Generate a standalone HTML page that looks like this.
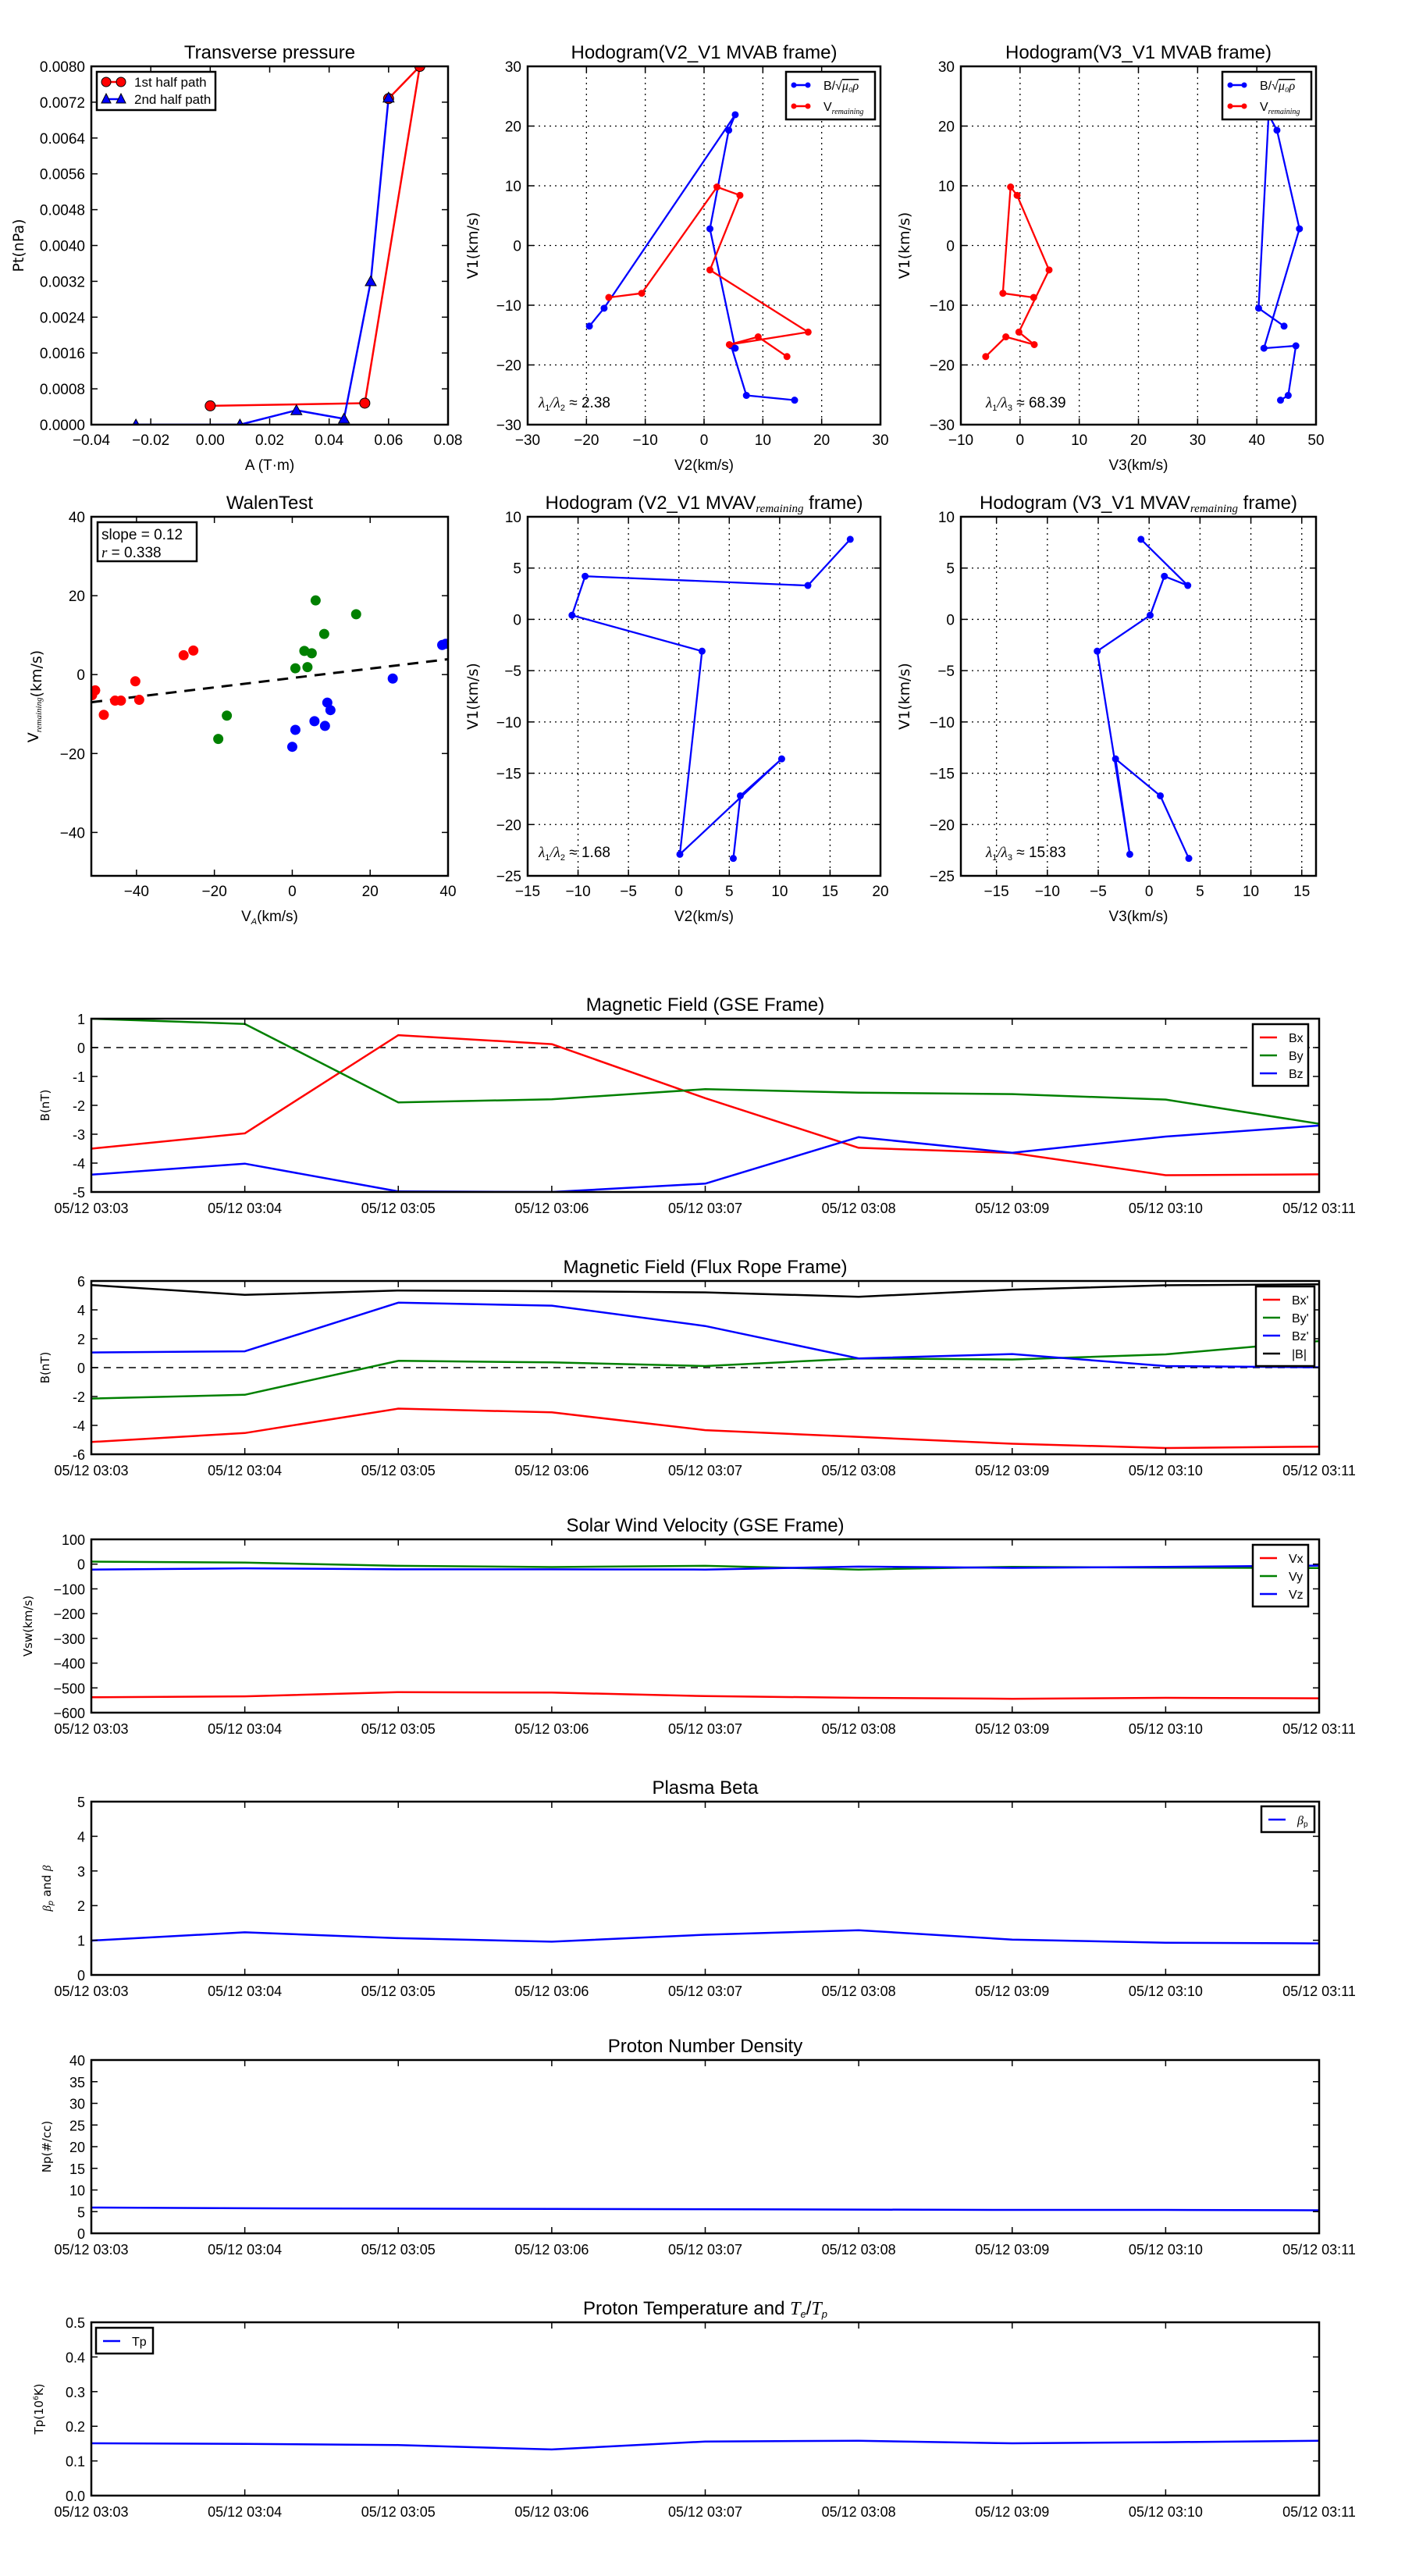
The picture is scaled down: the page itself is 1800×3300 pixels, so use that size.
<!DOCTYPE html>
<html><head><meta charset="utf-8"><style>
html,body{margin:0;padding:0;background:#fff;}
svg{display:block;font-family:"Liberation Sans",sans-serif;}
</style></head><body>
<svg id="fig" xmlns="http://www.w3.org/2000/svg" width="1800" height="3300" viewBox="0 0 1800 3300"></svg>
<script>
// ---------- data ----------
const tpX1=[0.0,0.052,0.0705,0.060];
const tpY1=[0.00042,0.00048,0.0080,0.00728];
const tpX2=[-0.025,0.010,0.029,0.045,0.054,0.060];
const tpY2=[0,0,0.00032,0.00013,0.0032,0.0073];

const h1BV2=[-19.5,-17,5.3,4.2,1.0,5.3,4.6,7.2,15.4];
const h1BV1=[-13.5,-10.5,21.9,19.3,2.8,-17.2,-16.8,-25.1,-25.9];
const h1VV2=[-16.2,-10.6,2.2,6.1,1.0,17.7,4.3,9.2,14.1];
const h1VV1=[-8.7,-8.0,9.8,8.4,-4.1,-14.5,-16.6,-15.3,-18.6];
const h1BV3=[44.6,40.3,42.0,43.4,47.2,41.2,46.6,45.3,44.0];
const h1VV3=[2.3,-2.9,-1.6,-0.5,4.9,-0.2,2.4,-2.4,-5.8];

const walRedX=[-51.4,-50.6,-48.4,-45.5,-44,-40.3,-39.3,-27.9,-25.4];
const walRedY=[-5.2,-4.0,-10.2,-6.6,-6.6,-1.7,-6.4,4.9,6.1];
const walGreenX=[6.0,16.4,8.2,3.1,5.0,0.8,3.9,-16.8,-19];
const walGreenY=[18.8,15.3,10.3,6.0,5.4,1.6,1.9,-10.4,-16.3];
const walBlueX=[38.5,39.4,25.8,9.0,9.8,5.7,8.4,0.8,0];
const walBlueY=[7.5,7.8,-1.0,-7.1,-9.0,-11.8,-13.0,-14.0,-18.3];
const walSlope=0.119, walIntercept=-0.86;

const h2V2=[17.0,12.8,-9.3,-10.6,2.3,0.1,10.2,6.1,5.4];
const h2V1=[7.8,3.3,4.2,0.4,-3.1,-22.9,-13.6,-17.2,-23.3];
const h2V3=[-0.8,3.8,1.5,0.1,-5.1,-1.9,-3.3,1.1,3.9];

const timeLabels=["05/12 03:03","05/12 03:04","05/12 03:05","05/12 03:06","05/12 03:07","05/12 03:08","05/12 03:09","05/12 03:10","05/12 03:11"];
const gseBx=[-3.5,-2.97,0.43,0.12,-1.75,-3.47,-3.65,-4.42,-4.39];
const gseBy=[1.0,0.82,-1.9,-1.79,-1.44,-1.56,-1.61,-1.8,-2.64];
const gseBz=[-4.4,-4.02,-4.98,-5.0,-4.71,-3.1,-3.64,-3.08,-2.7];
const frBx=[-5.15,-4.53,-2.84,-3.1,-4.33,-4.8,-5.27,-5.57,-5.47];
const frBy=[-2.14,-1.88,0.47,0.36,0.11,0.64,0.56,0.92,1.84];
const frBz=[1.05,1.13,4.5,4.29,2.88,0.64,0.94,0.11,0.02];
const frBt=[5.72,5.04,5.34,5.29,5.21,4.91,5.4,5.7,5.77];
const vx=[-538,-534,-517,-519,-533,-540,-544,-540,-542];
const vy=[10,6,-7,-12,-7,-22,-11,-14,-16];
const vz=[-22,-17,-21,-21,-22,-10,-15,-11,-6];
const betaP=[0.99,1.23,1.06,0.96,1.16,1.29,1.02,0.93,0.91];
const np=[5.95,5.79,5.7,5.63,5.56,5.48,5.4,5.4,5.32];
const tp=[0.151,0.149,0.146,0.133,0.156,0.158,0.151,0.154,0.158];

// ---------- helpers ----------
const NS="http://www.w3.org/2000/svg";
const svg=document.getElementById('fig');
function mk(parent,tag,attrs,name){
  const el=document.createElementNS(NS,tag);
  for(const k in attrs) el.setAttribute(k,attrs[k]);
  
  
  parent.appendChild(el);
  return el;
}
function txt(parent,x,y,s,size,anchor,name,extra){
  const a={x:x,y:y,'font-size':size,'text-anchor':anchor||'middle',fill:'#000'};
  if(extra) for(const k in extra) a[k]=extra[k];
  const t=mk(parent,'text',a,name);
  if(s!==null) t.textContent=s;
  return t;
}
function tspan(t,s,extra){
  const e=document.createElementNS(NS,'tspan');
  for(const k in (extra||{})) e.setAttribute(k,extra[k]);
  e.textContent=s;
  t.appendChild(e);
  return e;
}
let clipId=0;
function axes(c){
  const g=mk(svg,'g',{},c.name);
  const sx=v=>c.L+(v-c.xd[0])/(c.xd[1]-c.xd[0])*(c.R-c.L);
  const sy=v=>c.B-(v-c.yd[0])/(c.yd[1]-c.yd[0])*(c.B-c.T);
  const id='clip'+(clipId++);
  const cp=mk(g,'clipPath',{id:id},c.name+'-clip');
  mk(cp,'rect',{x:c.L,y:c.T,width:c.R-c.L,height:c.B-c.T},c.name+'-clip-rect');
  if(c.grid){
    c.xt.forEach(v=>{const x=sx(v); if(x>c.L+1&&x<c.R-1) mk(g,'line',{x1:x,x2:x,y1:c.T,y2:c.B,stroke:'#000','stroke-width':1.3,'stroke-dasharray':'2,5'},'x-grid-line');});
    c.yt.forEach(v=>{const y=sy(v); if(y>c.T+1&&y<c.B-1) mk(g,'line',{x1:c.L,x2:c.R,y1:y,y2:y,stroke:'#000','stroke-width':1.3,'stroke-dasharray':'2,5'},'y-grid-line');});
  }
  const data=mk(g,'g',{'clip-path':'url(#'+id+')'},c.name+'-plot-area');
  const fs=c.tickFs||19;
  c.xt.forEach((v,i)=>{const x=sx(v);
    mk(g,'line',{x1:x,x2:x,y1:c.B,y2:c.B-8,stroke:'#000','stroke-width':1.5},'x-tick');
    mk(g,'line',{x1:x,x2:x,y1:c.T,y2:c.T+8,stroke:'#000','stroke-width':1.5},'x-tick-top');
    txt(g,x,c.B+(c.xlabOff||26),c.xtl[i],fs,'middle','x-tick-label');});
  c.yt.forEach((v,i)=>{const y=sy(v);
    mk(g,'line',{x1:c.L,x2:c.L+8,y1:y,y2:y,stroke:'#000','stroke-width':1.5},'y-tick');
    mk(g,'line',{x1:c.R,x2:c.R-8,y1:y,y2:y,stroke:'#000','stroke-width':1.5},'y-tick-right');
    txt(g,c.L-8,y+7,c.ytl[i],fs,'end','y-tick-label');});
  if(c.title){const t=txt(g,(c.L+c.R)/2,c.T-10,null,c.titleFs||24,'middle','chart-title'); c.title(t);}
  if(c.xlabel){const t=txt(g,(c.L+c.R)/2,c.B+(c.xlOff||58),null,19,'middle','x-axis-title'); c.xlabel(t);}
  if(c.ylabel){const x=c.L-c.ylOff, y=(c.T+c.B)/2;
    const t=txt(g,x,y,null,c.ylFs||19,'middle','y-axis-title',{transform:'rotate(-90 '+x+' '+y+')','font-family':'DejaVu Sans, sans-serif'}); c.ylabel(t);}
  const frame=()=>mk(g,'rect',{x:c.L,y:c.T,width:c.R-c.L,height:c.B-c.T,fill:'none',stroke:'#000','stroke-width':2.5},'axes-frame');
  return {g,data,sx,sy,frame};
}
function pline(ax,xs,ys,color,w,name,dash){
  const pts=xs.map((x,i)=>ax.sx(x).toFixed(1)+','+ax.sy(ys[i]).toFixed(1)).join(' ');
  const a={points:pts,fill:'none',stroke:color,'stroke-width':w||2.5,'stroke-linejoin':'round'};
  if(dash) a['stroke-dasharray']=dash;
  return mk(ax.data,'polyline',a,name);
}
function dots(ax,xs,ys,color,r,name,stroke){
  xs.forEach((x,i)=>mk(ax.data,'circle',{cx:ax.sx(x),cy:ax.sy(ys[i]),r:r,fill:color,stroke:stroke||color,'stroke-width':1},name));
}
function tris(ax,xs,ys,color,s,name){
  xs.forEach((x,i)=>{const cx=ax.sx(x),cy=ax.sy(ys[i]);
    mk(ax.data,'polygon',{points:`${cx},${cy-s} ${cx-s},${cy+s*0.8} ${cx+s},${cy+s*0.8}`,fill:color,stroke:'#000','stroke-width':1},name);});
}
function range(a,b,st){const r=[];for(let v=a;v<=b+1e-9;v+=st)r.push(+v.toFixed(6));return r;}
function lbl(arr,f){return arr.map(v=>f?f(v):(v<0?'\u2212'+Math.abs(v):String(v)));}
function box(g,x,y,w,h,name){return mk(g,'rect',{x:x,y:y,width:w,height:h,fill:'#fff',stroke:'#000','stroke-width':2.5},name);}
function vrem(t,size){t.appendChild(document.createTextNode('V'));tspan(t,'remaining',{'font-size':size,'font-style':'italic','font-family':'Liberation Serif, serif',dy:4});}

// ---------- Transverse pressure ----------
(function(){
  const xt=range(-0.04,0.08,0.02), yt=range(0,0.008,0.0008);
  const ax=axes({name:'transverse-pressure-chart',L:117,R:574,T:85,B:544,xd:[-0.04,0.08],yd:[0,0.008],xt:xt,xtl:lbl(xt,v=>(v<0?'\u2212':'')+Math.abs(v).toFixed(2)),yt:yt,ytl:yt.map(v=>v.toFixed(4)),
    title:t=>t.textContent='Transverse pressure',xlabel:t=>t.textContent='A (T\u00b7m)',ylabel:t=>t.textContent='Pt(nPa)',ylOff:87});
  pline(ax,tpX1,tpY1,'#ff0000',2.5,'first-half-path-line');
  pline(ax,tpX2,tpY2,'#0000ff',2.5,'second-half-path-line');
  dots(ax,tpX1,tpY1,'#ff0000',6.5,'first-half-marker','#000');
  tris(ax,tpX2,tpY2,'#0000ff',7,'second-half-marker');
  ax.frame();
  box(ax.g,124,92,152,49,'legend');
  mk(ax.g,'line',{x1:134,x2:156,y1:105,y2:105,stroke:'#ff0000','stroke-width':2.5},'legend-line-first-half');
  mk(ax.g,'circle',{cx:136,cy:105,r:6,fill:'#ff0000',stroke:'#000'},'legend-marker');
  mk(ax.g,'circle',{cx:155,cy:105,r:6,fill:'#ff0000',stroke:'#000'},'legend-marker');
  txt(ax.g,172,111,'1st half path',17,'start','legend-entry-first-half');
  mk(ax.g,'line',{x1:134,x2:156,y1:127,y2:127,stroke:'#0000ff','stroke-width':2.5},'legend-line-second-half');
  mk(ax.g,'polygon',{points:'136,120 130,132 142,132',fill:'#0000ff',stroke:'#000'},'legend-marker');
  mk(ax.g,'polygon',{points:'155,120 149,132 161,132',fill:'#0000ff',stroke:'#000'},'legend-marker');
  txt(ax.g,172,133,'2nd half path',17,'start','legend-entry-second-half');
})();

// ---------- hodogram legend ----------
function hodoLegend(g,x,y){
  box(g,x,y,114,61,'legend');
  mk(g,'line',{x1:x+8,x2:x+30,y1:y+17,y2:y+17,stroke:'#0000ff','stroke-width':2.5},'legend-line-b');
  mk(g,'circle',{cx:x+10,cy:y+17,r:3.5,fill:'#0000ff'},'legend-marker');
  mk(g,'circle',{cx:x+28,cy:y+17,r:3.5,fill:'#0000ff'},'legend-marker');
  const t=txt(g,x+48,y+23,'B/\u221A',16,'start','legend-entry-b');
  tspan(t,'\u03bc\u2080\u03c1',{'font-style':'italic','font-family':'Liberation Serif, serif','text-decoration':'overline'});
  mk(g,'line',{x1:x+8,x2:x+30,y1:y+44,y2:y+44,stroke:'#ff0000','stroke-width':2.5},'legend-line-v');
  mk(g,'circle',{cx:x+10,cy:y+44,r:3.5,fill:'#ff0000'},'legend-marker');
  mk(g,'circle',{cx:x+28,cy:y+44,r:3.5,fill:'#ff0000'},'legend-marker');
  const t2=txt(g,x+48,y+50,null,16,'start','legend-entry-v'); vrem(t2,10);
}
function lam(g,x,y,a,b,v){
  const t=txt(g,x,y,null,19,'start','eigenvalue-ratio-label');
  tspan(t,'\u03bb',{'font-style':'italic','font-family':'Liberation Serif, serif'});
  tspan(t,'1',{'font-size':11,dy:4});
  tspan(t,'/\u03bb',{'font-style':'italic','font-family':'Liberation Serif, serif',dy:-4});
  tspan(t,b,{'font-size':11,dy:4});
  tspan(t,' \u2248 '+v,{dy:-4});
}

// ---------- Hodogram V2_V1 MVAB ----------
(function(){
  const xt=range(-30,30,10), yt=range(-30,30,10);
  const ax=axes({name:'hodogram-v2-v1-mvab-chart',L:676,R:1128,T:85,B:544,xd:[-30,30],yd:[-30,30],xt:xt,xtl:lbl(xt),yt:yt,ytl:lbl(yt),grid:true,
    title:t=>t.textContent='Hodogram(V2_V1 MVAB frame)',xlabel:t=>t.textContent='V2(km/s)',ylabel:t=>t.textContent='V1(km/s)',ylOff:64});
  pline(ax,h1BV2,h1BV1,'#0000ff',2.3,'b-hodogram-line'); dots(ax,h1BV2,h1BV1,'#0000ff',4,'b-hodogram-point');
  pline(ax,h1VV2,h1VV1,'#ff0000',2.3,'v-hodogram-line'); dots(ax,h1VV2,h1VV1,'#ff0000',4,'v-hodogram-point');
  ax.frame(); hodoLegend(ax.g,1007,92); lam(ax.g,690,522,'1','2','2.38');
})();
// ---------- Hodogram V3_V1 MVAB ----------
(function(){
  const xt=range(-10,50,10), yt=range(-30,30,10);
  const ax=axes({name:'hodogram-v3-v1-mvab-chart',L:1231,R:1686,T:85,B:544,xd:[-10,50],yd:[-30,30],xt:xt,xtl:lbl(xt),yt:yt,ytl:lbl(yt),grid:true,
    title:t=>t.textContent='Hodogram(V3_V1 MVAB frame)',xlabel:t=>t.textContent='V3(km/s)',ylabel:t=>t.textContent='V1(km/s)',ylOff:66});
  pline(ax,h1BV3,h1BV1,'#0000ff',2.3,'b-hodogram-line'); dots(ax,h1BV3,h1BV1,'#0000ff',4,'b-hodogram-point');
  pline(ax,h1VV3,h1VV1,'#ff0000',2.3,'v-hodogram-line'); dots(ax,h1VV3,h1VV1,'#ff0000',4,'v-hodogram-point');
  ax.frame(); hodoLegend(ax.g,1566,92); lam(ax.g,1263,522,'1','3','68.39');
})();

// ---------- Walen test ----------
(function(){
  const xt=range(-40,40,20), yt=range(-40,40,20);
  const ax=axes({name:'walen-test-chart',L:117,R:574,T:662,B:1122,xd:[-51.6,40],yd:[-51,40],xt:xt,xtl:lbl(xt),yt:yt,ytl:lbl(yt),
    title:t=>t.textContent='WalenTest',
    xlabel:t=>{t.appendChild(document.createTextNode('V'));tspan(t,'A',{'font-size':11,'font-style':'italic',dy:4});tspan(t,'(km/s)',{dy:-4});},
    ylabel:t=>{vrem(t,11);t.appendChild(document.createTextNode('(km/s)'));},ylOff:68});
  const fx=[-51.6,40], fy=fx.map(x=>walSlope*x+walIntercept);
  pline(ax,fx,fy,'#000',3,'fit-line','14,10');
  dots(ax,walRedX,walRedY,'#ff0000',6,'walen-point-red');
  dots(ax,walGreenX,walGreenY,'#008000',6,'walen-point-green');
  dots(ax,walBlueX,walBlueY,'#0000ff',6,'walen-point-blue');
  ax.frame();
  box(ax.g,125,669,127,50,'fit-stats-box');
  txt(ax.g,130,691,'slope = 0.12',19,'start','slope-label');
  const t=txt(ax.g,130,714,null,19,'start','correlation-label');
  tspan(t,'r',{'font-style':'italic','font-family':'Liberation Serif, serif'}); tspan(t,' = 0.338');
})();

// ---------- Hodogram V2_V1 MVAV ----------
(function(){
  const xt=range(-15,20,5), yt=range(-25,10,5);
  const ax=axes({name:'hodogram-v2-v1-mvav-chart',L:676,R:1128,T:662,B:1122,xd:[-15,20],yd:[-25,10],xt:xt,xtl:lbl(xt),yt:yt,ytl:lbl(yt),grid:true,
    title:t=>{t.appendChild(document.createTextNode('Hodogram (V2_V1 MVAV'));tspan(t,'remaining',{'font-size':15,'font-style':'italic','font-family':'Liberation Serif, serif',dy:4});tspan(t,' frame)',{dy:-4});},
    xlabel:t=>t.textContent='V2(km/s)',ylabel:t=>t.textContent='V1(km/s)',ylOff:64});
  pline(ax,h2V2,h2V1,'#0000ff',2.3,'hodogram-line'); dots(ax,h2V2,h2V1,'#0000ff',4,'hodogram-point');
  ax.frame(); lam(ax.g,690,1098,'1','2','1.68');
})();
// ---------- Hodogram V3_V1 MVAV ----------
(function(){
  const xt=range(-15,15,5), yt=range(-25,10,5);
  const ax=axes({name:'hodogram-v3-v1-mvav-chart',L:1231,R:1686,T:662,B:1122,xd:[-18.5,16.4],yd:[-25,10],xt:xt,xtl:lbl(xt),yt:yt,ytl:lbl(yt),grid:true,
    title:t=>{t.appendChild(document.createTextNode('Hodogram (V3_V1 MVAV'));tspan(t,'remaining',{'font-size':15,'font-style':'italic','font-family':'Liberation Serif, serif',dy:4});tspan(t,' frame)',{dy:-4});},
    xlabel:t=>t.textContent='V3(km/s)',ylabel:t=>t.textContent='V1(km/s)',ylOff:66});
  pline(ax,h2V3,h2V1,'#0000ff',2.3,'hodogram-line'); dots(ax,h2V3,h2V1,'#0000ff',4,'hodogram-point');
  ax.frame(); lam(ax.g,1263,1098,'1','3','15.83');
})();

// ---------- time series ----------
const tIdx=timeLabels.map((_,i)=>i);
function ts(name,T,yd,yt,ytl,title,ylab,ylOff,series,legend,zero){
  const ax=axes({name:name,L:117,R:1690,T:T,B:T+222,xd:[0,8],yd:yd,xt:tIdx,xtl:timeLabels,yt:yt,ytl:ytl,tickFs:18,xlabOff:27,
    title:title,ylabel:ylab,ylOff:ylOff,ylFs:15});
  if(zero) mk(ax.data,'line',{x1:117,x2:1690,y1:ax.sy(0),y2:ax.sy(0),stroke:'#000','stroke-width':1.5,'stroke-dasharray':'9,7'},'zero-line');
  series.forEach(s=>pline(ax,tIdx,s[0],s[1],2.5,s[2]));
  ax.frame();
  if(legend){
    const [lx,ly,lw,items]=legend;
    box(ax.g,lx,ly,lw,items.length*23+10,'legend');
    items.forEach((it,i)=>{const y=ly+17+i*23;
      mk(ax.g,'line',{x1:lx+9,x2:lx+31,y1:y,y2:y,stroke:it[0],'stroke-width':2.5},'legend-line');
      const t=txt(ax.g,lx+46,y+6,null,16,'start','legend-entry-'+i); it[1](t);});
  }
  return ax;
}
const L=s=>(t=>t.textContent=s);
ts('magnetic-field-gse-chart',1305,[-5,1],range(-5,1,1),lbl(range(-5,1,1),v=>v<0?'-'+Math.abs(v):String(v)),L('Magnetic Field (GSE Frame)'),L('B(nT)'),54,
  [[gseBx,'#ff0000','bx-line'],[gseBy,'#008000','by-line'],[gseBz,'#0000ff','bz-line']],
  [1605,1312,71,[['#ff0000',L('Bx')],['#008000',L('By')],['#0000ff',L('Bz')]]],true);
ts('magnetic-field-flux-rope-chart',1641,[-6,6],range(-6,6,2),lbl(range(-6,6,2),v=>v<0?'-'+Math.abs(v):String(v)),L('Magnetic Field (Flux Rope Frame)'),L('B(nT)'),54,
  [[frBx,'#ff0000','bx-prime-line'],[frBy,'#008000','by-prime-line'],[frBz,'#0000ff','bz-prime-line'],[frBt,'#000000','b-magnitude-line']],
  [1609,1648,75,[['#ff0000',L("Bx'")],['#008000',L("By'")],['#0000ff',L("Bz'")],['#000000',L('|B|')]]],true);
ts('solar-wind-velocity-chart',1972,[-600,100],range(-600,100,100),lbl(range(-600,100,100),v=>v<0?'\u2212'+Math.abs(v):String(v)),L('Solar Wind Velocity (GSE Frame)'),L('Vsw(km/s)'),76,
  [[vx,'#ff0000','vx-line'],[vy,'#008000','vy-line'],[vz,'#0000ff','vz-line']],
  [1605,1979,71,[['#ff0000',L('Vx')],['#008000',L('Vy')],['#0000ff',L('Vz')]]],false);
ts('plasma-beta-chart',2308,[0,5],range(0,5,1),range(0,5,1).map(String),L('Plasma Beta'),
  t=>{tspan(t,'\u03b2',{'font-style':'italic','font-family':'Liberation Serif, serif'});tspan(t,'p',{'font-size':10,'font-style':'italic',dy:3});tspan(t,' and ',{dy:-3});tspan(t,'\u03b2',{'font-style':'italic','font-family':'Liberation Serif, serif'});},52,
  [[betaP,'#0000ff','beta-p-line']],
  [1616,2314,68,[['#0000ff',t=>{tspan(t,'\u03b2',{'font-style':'italic','font-family':'Liberation Serif, serif'});tspan(t,'p',{'font-size':10,dy:3});}]]],false);
ts('proton-density-chart',2639,[0,40],range(0,40,5),range(0,40,5).map(String),L('Proton Number Density'),L('Np(#/cc)'),52,
  [[np,'#0000ff','np-line']],null,false);
const tpAx=ts('proton-temperature-chart',2975,[0,0.5],range(0,0.5,0.1),range(0,0.5,0.1).map(v=>v.toFixed(1)),
  t=>{t.appendChild(document.createTextNode('Proton Temperature and '));tspan(t,'T',{'font-style':'italic','font-family':'Liberation Serif, serif'});tspan(t,'e',{'font-size':13,'font-style':'italic',dy:4});tspan(t,'/',{dy:-4});tspan(t,'T',{'font-style':'italic','font-family':'Liberation Serif, serif'});tspan(t,'p',{'font-size':13,'font-style':'italic',dy:4});},
  t=>{t.appendChild(document.createTextNode('Tp('));tspan(t,'10',{});tspan(t,'6',{'font-size':9,dy:-6});tspan(t,'K)',{dy:6});},62,
  [[tp,'#0000ff','tp-line']],
  [123,2982,73,[['#0000ff',L('Tp')]]],false);
</script>
</body></html>
